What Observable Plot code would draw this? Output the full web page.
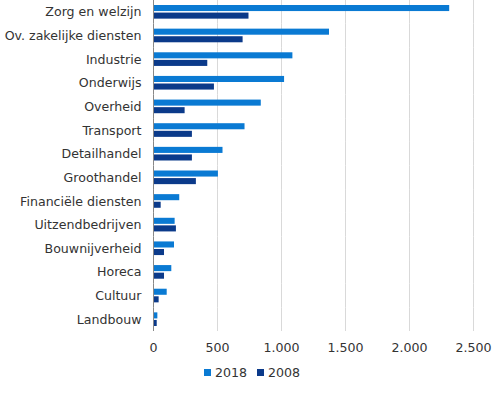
<!DOCTYPE html>
<html>
<head>
<meta charset="utf-8">
<script src="https://cdn.jsdelivr.net/npm/d3@7"></script>
<script src="https://cdn.jsdelivr.net/npm/@observablehq/plot@0.6"></script>
<style>
  html, body { margin: 0; padding: 0; background: #fff; }
  body { width: 500px; font-family: "DejaVu Sans", Verdana, sans-serif; }
  #legend { display: flex; justify-content: center; gap: 10px; font-size: 12.6px; color: #333; margin-top: 3px; padding-left: 4px; }
  #legend span.item { display: inline-flex; align-items: center; }
  #legend span.sw { display: inline-block; width: 7px; height: 7px; margin-right: 4px; }
</style>
</head>
<body>
<div id="chart"></div>
<div id="legend"></div>
<script>
const categories = ["Zorg en welzijn", "Ov. zakelijke diensten", "Industrie", "Onderwijs", "Overheid", "Transport", "Detailhandel", "Groothandel", "Financiële diensten", "Uitzendbedrijven", "Bouwnijverheid", "Horeca", "Cultuur", "Landbouw"];
const series = ["2018", "2008"];
const values2018 = [2314, 1375, 1089, 1024, 842, 715, 543, 507, 205, 169, 164, 143, 107, 34];
const values2008 = [746, 700, 424, 476, 247, 304, 304, 335, 60, 179, 86, 86, 44, 29];
const xTicks = [0, 500, 1000, 1500, 2000, 2500];
const colors = ["#0a7ad3", "#0b3a8a"];

const data = [];
categories.forEach((c, i) => {
  data.push({cat: c, year: "2018", value: values2018[i]});
  data.push({cat: c, year: "2008", value: values2008[i]});
});

const nl = d3.formatLocale({decimal: ",", thousands: ".", grouping: [3], currency: ["€", ""]});
const fmt = nl.format(",");

const chart = Plot.plot({
  width: 500,
  height: 362,
  marginTop: 0,
  marginLeft: 153,
  marginRight: 27,
  marginBottom: 31,
  style: {fontFamily: "DejaVu Sans, Verdana, sans-serif", fontSize: "12.6px", color: "#333", background: "#fff"},
  x: {domain: [0, 2500], ticks: xTicks, tickFormat: fmt, tickSize: 0, tickPadding: 12, label: null},
  y: {domain: series, axis: null, paddingInner: 0.2, paddingOuter: 0.66, round: false},
  fy: {domain: categories, padding: 0, tickSize: 0, tickPadding: 12, label: null, round: false},
  color: {domain: series, range: colors},
  marks: [
    Plot.ruleX(xTicks.slice(1), {stroke: "#d9d9d9", strokeWidth: 1}),
    Plot.barX(data, {fy: "cat", y: "year", x: "value", fill: "year"}),
    Plot.ruleX([0], {stroke: "#888", strokeWidth: 1})
  ]
});
document.getElementById("chart").appendChild(chart);

const legend = document.getElementById("legend");
series.forEach((s, i) => {
  const item = document.createElement("span");
  item.className = "item";
  const sw = document.createElement("span");
  sw.className = "sw";
  sw.style.background = colors[i];
  item.appendChild(sw);
  item.appendChild(document.createTextNode(s));
  legend.appendChild(item);
});
</script>
</body>
</html>
